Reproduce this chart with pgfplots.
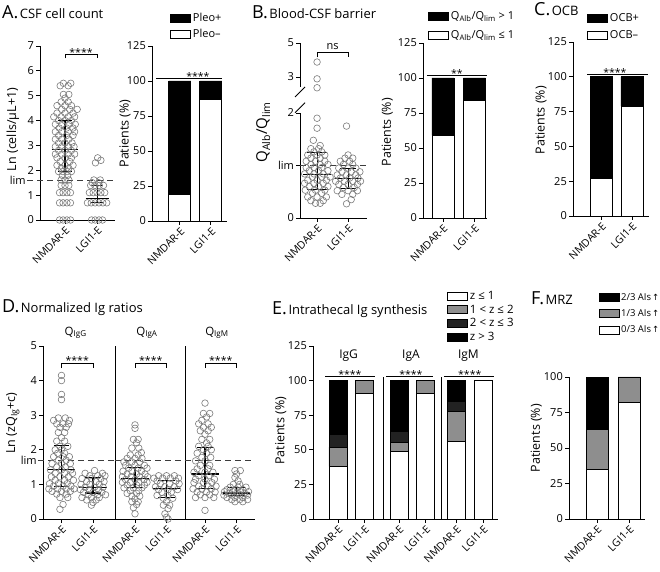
\documentclass[border=0pt]{standalone}
\usepackage{fontspec}
\setmainfont{Open Sans}
\newfontfamily\symfont{DejaVu Sans}
\usepackage{pgfplots}
\pgfplotsset{compat=1.18}

\definecolor{dotgray}{HTML}{7A7A7A}
\definecolor{midgray}{HTML}{8E8E8E}
\definecolor{darkseg}{HTML}{222222}
\definecolor{limgray}{HTML}{3C3C3C}
\newcommand{\fs}[1]{\fontsize{#1bp}{#1bp}\selectfont}
\newcommand{\up}{\hspace{1bp}{\symfont\fs{8.5}↑}}

\tikzset{star/.style={font=\fs{10.5}, anchor=base, inner sep=0pt, yshift=-2bp}}

\pgfplotsset{
  base/.style={scale only axis, clip=false, enlargelimits=false, anchor=south west,
    axis x line*=bottom, axis y line*=left,
    axis line style={line width=0.9bp, -},
    tick align=outside, major tick length=4bp,
    every tick/.style={black, line width=0.9bp},
    tick label style={font=\fs{11}},
    /pgf/number format/assume math mode=true,
    xtick={1,2}, xticklabels={NMDAR-E,LGI1-E},
    x tick label style={rotate=45, anchor=north east, font=\fs{10.5}, inner sep=1bp},
    y tick label style={inner sep=2bp},
    label style={font=\fs{12.5}},
  },
  ylab/.style 2 args={ylabel style={at={(axis description cs:#1,#2)}, anchor=center}},
  dots/.style={only marks, mark=o, mark size=3.3bp, color=dotgray, line width=0.6bp},
  eb/.style={black, line width=1.1bp},
  lim/.style={limgray, line width=0.9bp, dash pattern=on 6bp off 4bp},
  bars/.style={base, ybar stacked, bar width=22bp, ymin=0, ymax=125, ytick={0,25,...,125},
    ylabel={Patients (\%)},
    legend style={draw=none, fill=none, font=\fs{11}, cells={anchor=west}, inner sep=0pt,
      anchor=north west, row sep=2bp},
    reverse legend},
  seg/.style={draw=black, line width=0.8bp,
    legend image code/.code={\draw[##1] (0bp,-4bp) rectangle (20bp,4bp);}},
}

% median line, whisker, caps
\newcommand{\ebar}[8]{%
  \addplot[eb] coordinates {(#1,#6) (#2,#6)};
  \addplot[eb] coordinates {(#5,#7) (#5,#8)};
  \addplot[eb] coordinates {(#3,#7) (#4,#7)};
  \addplot[eb] coordinates {(#3,#8) (#4,#8)};}

\begin{document}
\begin{tikzpicture}[x=1bp,y=1bp]
\path[use as bounding box] (0,0) rectangle (660,572);

\node[anchor=base west, inner sep=0] at (2,553) {\fs{18}A.\hspace{1.5bp}\fs{13}CSF cell count};
\node[anchor=base west, inner sep=0] at (252,553) {\fs{18}B.\hspace{1.5bp}\fs{13}Blood-CSF barrier};
\node[anchor=base west, inner sep=0] at (534,556) {\fs{18}C.\hspace{1.5bp}\fs{13}OCB};
\node[anchor=base west, inner sep=0] at (2,259) {\fs{18}D.\hspace{1.5bp}\fs{13}Normalized Ig ratios};
\node[anchor=base west, inner sep=0] at (272,257) {\fs{18}E.\hspace{1.5bp}\fs{13}Intrathecal Ig synthesis};
\node[anchor=base west, inner sep=0] at (531,267) {\fs{18}F.\hspace{1.5bp}\fs{13}MRZ};

% ---------- A: cell count
\begin{axis}[base, at={(40bp,352bp)}, width=75bp, height=174bp,
  xmin=0.22, xmax=2.56, ymin=0, ymax=7, ytick={0,...,7},
  ylabel={Ln (cells/µL+1)}, ylab={-0.36}{0.52}]
\addplot[lim] coordinates {(-0.18,1.6) (2.56,1.6)};
\addplot[dots] coordinates {
(0.83,0)(0.94,0)(1.06,0)(1.17,0)
(0.83,0.69)(0.94,0.69)(1.06,0.69)(1.17,0.69)
(0.83,1.1)(0.94,1.1)(1.06,1.1)(1.17,1.1)
(0.88,1.39)(1,1.39)(1.12,1.39)
(0.88,1.61)(1,1.61)(1.12,1.61)
(0.92,1.79)(1.08,1.79)
(0.8,1.95)(0.93,1.95)(1.07,1.95)(1.2,1.95)
(0.88,2.08)(1.12,2.08)
(0.75,2.2)(1,2.2)(1.25,2.2)
(0.85,2.35)(1.15,2.35)
(0.75,2.5)(1,2.5)(1.2,2.5)
(0.7,2.65)(0.9,2.65)(1.1,2.65)(1.3,2.65)
(0.8,2.8)(1,2.8)(1.2,2.8)
(0.7,2.95)(0.9,2.95)(1.1,2.95)(1.28,2.95)
(0.8,3.1)(1,3.1)(1.22,3.1)
(0.7,3.25)(0.9,3.25)(1.12,3.25)
(0.8,3.4)(1.05,3.4)(1.25,3.4)
(0.7,3.55)(0.9,3.55)(1.1,3.55)(1.3,3.55)
(0.82,3.7)(1.05,3.7)(1.25,3.7)
(0.7,3.85)(0.9,3.85)(1.12,3.85)(1.32,3.85)
(0.8,4)(1,4)(1.2,4)
(0.65,4.15)(0.88,4.15)(1.1,4.15)(1.3,4.15)
(0.75,4.3)(1,4.3)(1.25,4.3)
(0.9,4.45)(1.15,4.45)(1.38,4.45)
(0.75,4.6)(1,4.6)(1.2,4.6)
(0.88,4.75)(1.1,4.75)
(1,4.9)
(0.95,5.05)(1.12,5.05)
(0.85,5.4)(1.1,5.4)
(0.95,5.5)(1.18,5.5)};
\addplot[dots] coordinates {
(1.83,0)(1.94,0)(2.06,0)(2.17,0)
(1.7,0.69)(1.82,0.69)(1.94,0.69)(2.06,0.69)(2.18,0.69)(2.3,0.69)
(1.76,1.1)(1.88,1.1)(2,1.1)(2.12,1.1)(2.24,1.1)
(1.8,1.39)(1.93,1.39)(2.07,1.39)(2.2,1.39)
(1.85,1.5)(2.05,1.5)
(1.9,1.61)(2.1,1.61)
(1.95,2.3)(2.12,2.4)(2.02,2.5)};
\ebar{0.58}{1.42}{0.77}{1.23}{1}{2.85}{1.95}{4.0}
\ebar{1.64}{2.36}{1.8}{2.2}{2}{0.88}{0.69}{1.4}
\addplot[black, line width=0.9bp] coordinates {(1,6.5) (1,6.67) (2,6.67) (2,6.5)};
\node[star] at (axis cs:1.5,6.67) {****};
\node[font=\fs{11}, anchor=east, inner sep=1bp] at (axis cs:-0.19,1.6) {lim};
\end{axis}

\begin{axis}[bars, at={(152bp,351bp)}, width=75bp, height=175bp,
  xmin=0.1, xmax=2.52, ylab={-0.36}{0.5}, legend style={at={(0.24,1.2)}}]
\addplot[seg, fill=white] coordinates {(1,19) (2,87)}; \addlegendentry{Pleo–}
\addplot[seg, fill=black] coordinates {(1,81) (2,13)}; \addlegendentry{Pleo+}
\draw[line width=0.9bp] (axis cs:0.23,102) -- (axis cs:2.36,102);
\node[star] at (axis cs:1.58,102) {****};
\end{axis}

% ---------- B: blood-CSF barrier
\begin{axis}[base, at={(300bp,354bp)}, width=67bp, height=175bp,
  xmin=0.45, xmax=2.61, ymin=0, ymax=3.333,
  ytick={0,1,2,2.686,3.333}, yticklabels={0,lim,2,3,5},
  y axis line style={draw=none},
  ylabel={Q\textsubscript{Alb}/Q\textsubscript{lim}}, ylabel style={font=\fs{15}}, ylab={-0.55}{0.49}]
\draw[line width=0.9bp] (axis cs:0.45,0) -- (axis cs:0.45,2.0);
\draw[line width=0.9bp] (axis cs:0.45,2.5) -- (axis cs:0.45,3.333);
\draw[line width=0.9bp] (axis cs:0.45,2.1) ++(-5bp,-5bp) -- ++(10bp,10bp);
\draw[line width=0.9bp] (axis cs:0.45,2.4) ++(-5bp,-5bp) -- ++(10bp,10bp);
\addplot[lim] coordinates {(0.45,1) (2.61,1)};
\addplot[dots] coordinates {
(0.95,0.28)(1.1,0.28)(1.2,0.33)(0.8,0.33)
(0.7,0.4)(1,0.4)(1.3,0.4)(0.85,0.47)(1.15,0.47)
(0.62,0.53)(0.95,0.53)(1.25,0.53)
(0.75,0.6)(1.05,0.6)(1.35,0.6)
(0.6,0.66)(0.9,0.66)(1.2,0.66)
(0.7,0.72)(1,0.72)(1.3,0.72)
(0.85,0.78)(1.15,0.78)(1.42,0.78)
(0.6,0.84)(0.9,0.84)(1.2,0.84)
(0.75,0.9)(1.05,0.9)(1.35,0.9)
(0.65,0.96)(0.9,0.96)(1.15,0.96)
(0.8,1.02)(1.1,1.02)(1.35,1.02)
(0.65,1.08)(0.95,1.08)(1.25,1.08)
(0.8,1.14)(1.1,1.14)
(0.7,1.2)(1,1.2)(1.25,1.2)
(0.9,1.26)(1.15,1.26)
(0.8,1.32)(1.05,1.32)
(1.1,1.38)(0.88,1.48)(1,1.71)(1,1.9)
(1,2.48)(1,2.65)(1,2.97)};
\addplot[dots] coordinates {
(1.95,0.27)(2.1,0.35)(1.8,0.45)(2.15,0.45)
(1.65,0.52)(2,0.52)(2.3,0.52)(1.85,0.58)(2.2,0.58)
(1.7,0.64)(2,0.64)(2.3,0.64)
(1.6,0.7)(1.88,0.7)(2.15,0.7)(2.4,0.7)
(1.75,0.76)(2.05,0.76)(2.32,0.76)
(1.65,0.82)(1.95,0.82)(2.25,0.82)
(1.8,0.88)(2.1,0.88)(2.38,0.88)
(1.7,0.95)(2,0.95)(2.25,0.95)
(1.85,1.02)(2.15,1.02)(1.75,1.08)(2.05,1.08)
(1.9,1.14)(2.15,1.14)(2,1.2)(1.95,1.75)};
\ebar{0.56}{1.44}{0.68}{1.32}{1}{0.82}{0.55}{1.24}
\ebar{1.58}{2.42}{1.73}{2.27}{2}{0.76}{0.57}{0.95}
\addplot[black, line width=0.9bp] coordinates {(1,3.06) (1,3.16) (2,3.16) (2,3.06)};
\node[font=\fs{11}, anchor=base, inner sep=0pt] at (axis cs:1.5,3.2) {ns};
\end{axis}

\begin{axis}[bars, at={(423bp,354bp)}, width=64bp, height=175bp,
  xmin=0.365, xmax=2.4, ylab={-0.56}{0.49}, legend style={at={(0.078,1.194)}, row sep=6bp}]
\addplot[seg, fill=white] coordinates {(1,59) (2,84)}; \addlegendentry{Q\textsubscript{Alb}/Q\textsubscript{lim} ≤ 1}
\addplot[seg, fill=black] coordinates {(1,41) (2,16)}; \addlegendentry{Q\textsubscript{Alb}/Q\textsubscript{lim} > 1}
\draw[line width=0.9bp] (axis cs:0.49,101.5) -- (axis cs:2.4,101.5);
\node[star] at (axis cs:1.44,101.5) {**};
\end{axis}

% ---------- C: OCB
\begin{axis}[bars, at={(573bp,356bp)}, width=76bp, height=174bp,
  xmin=0.066, xmax=2.56, ylab={-0.42}{0.55}, legend style={at={(0.184,1.178)}, row sep=4bp}]
\addplot[seg, fill=white] coordinates {(1,27) (2,79)}; \addlegendentry{OCB–}
\addplot[seg, fill=black] coordinates {(1,73) (2,21)}; \addlegendentry{OCB+}
\draw[line width=0.9bp] (axis cs:0.53,102) -- (axis cs:2.53,102);
\node[star] at (axis cs:1.44,102) {****};
\end{axis}

% ---------- D: normalized Ig ratios
\begin{axis}[base, at={(43bp,53bp)}, width=72bp, height=173bp,
  xmin=0.413, xmax=2.699, ymin=0, ymax=5, ytick={0,...,5},
  ylabel={Ln (zQ\textsubscript{Ig}+c)}, ylab={-0.42}{0.555}]
\addplot[lim] coordinates {(0.25,1.7) (2.699,1.7)};
\node[font=\fs{11}, anchor=east, inner sep=1bp] at (axis cs:0.25,1.7) {lim};
\node[font=\fs{11.5}] at (axis cs:1.45,5.38) {Q\textsubscript{IgG}};
\addplot[dots] coordinates {
(1,4.15)(1,4)(1,3.6)(1,3.45)
(0.9,2.92)(1.12,2.92)(0.75,2.85)(1.25,2.85)(0.85,2.75)(1.05,2.75)(1.22,2.75)(0.95,2.65)(1.15,2.65)
(0.9,2.5)(1.1,2.5)(1,2.35)(0.85,2.25)(1.1,2.25)(0.95,2.1)(1.2,2.1)
(0.8,2)(1,2)(1.1,1.9)(0.88,1.9)(0.75,1.8)(1.05,1.8)(1.25,1.8)(0.9,1.7)(1.15,1.7)
(0.7,1.6)(1,1.6)(1.28,1.6)(0.85,1.5)(1.12,1.5)(0.65,1.42)(1,1.42)(1.3,1.42)
(0.8,1.32)(1.1,1.32)(1.35,1.32)(0.68,1.22)(0.95,1.22)(1.22,1.22)
(0.8,1.12)(1.1,1.12)(1.38,1.12)(0.62,1.02)(0.9,1.02)(1.18,1.02)
(0.75,0.95)(1.05,0.95)(1.3,0.95)(0.6,0.87)(0.88,0.87)(1.15,0.87)(1.4,0.87)
(0.7,0.8)(1,0.8)(1.28,0.8)(0.85,0.72)(1.15,0.72)(0.95,0.62)(1.2,0.62)
(1.05,0.42)(0.95,0.28)};
\addplot[dots] coordinates {
(2.05,1.4)(1.75,1.32)(2.3,1.32)(1.9,1.25)(2.15,1.25)(2.38,1.25)
(1.65,1.17)(1.95,1.17)(2.25,1.17)(1.8,1.08)(2.1,1.08)(2.35,1.08)
(1.62,1)(1.9,1)(2.2,1)(1.75,0.92)(2.05,0.92)(2.32,0.92)
(1.6,0.85)(1.88,0.85)(2.18,0.85)(1.7,0.77)(2,0.77)(2.28,0.77)
(1.85,0.7)(2.15,0.7)(2.4,0.7)(1.65,0.62)(1.95,0.62)(2.2,0.62)
(2.1,0.55)(1.8,0.55)(2,0.48)(1.95,0.4)};
\ebar{0.56}{1.44}{0.76}{1.24}{1}{1.43}{0.95}{2.12}
\ebar{1.56}{2.44}{1.74}{2.26}{2}{0.92}{0.75}{1.2}
\addplot[black, line width=0.9bp] coordinates {(1,4.36) (1,4.51) (2,4.51) (2,4.36)};
\node[star] at (axis cs:1.5,4.51) {****};
\end{axis}

\begin{axis}[base, at={(115bp,53bp)}, width=70bp, height=173bp,
  xmin=0.365, xmax=2.587, ymin=0, ymax=5, ytick=\empty]
\addplot[lim] coordinates {(0.365,1.7) (2.587,1.7)};
\node[font=\fs{11.5}] at (axis cs:1.38,5.38) {Q\textsubscript{IgA}};
\addplot[dots] coordinates {
(1,2.72)(1,2.62)(0.95,2.3)(1.1,2.3)(1.05,2.2)(0.9,2.05)(1.12,2.05)(1.2,1.92)
(0.85,1.85)(1.1,1.85)(0.75,1.75)(1,1.75)(1.22,1.75)(0.65,1.65)(0.9,1.65)(1.15,1.65)
(0.7,1.55)(1,1.55)(1.3,1.55)(0.8,1.47)(1.1,1.47)(1.38,1.47)
(0.62,1.38)(0.9,1.38)(1.2,1.38)(0.75,1.3)(1.05,1.3)(1.32,1.3)
(0.6,1.22)(0.88,1.22)(1.15,1.22)(1.4,1.22)(0.7,1.14)(1,1.14)(1.28,1.14)
(0.6,1.06)(0.85,1.06)(1.12,1.06)(1.38,1.06)(0.75,0.98)(1.05,0.98)(1.3,0.98)
(0.65,0.9)(0.95,0.9)(1.22,0.9)(0.85,0.82)(1.12,0.82)(0.75,0.74)(1.05,0.74)
(0.9,0.66)(1.15,0.66)(1,0.58)(0.9,0.5)(1.1,0.5)(1.05,0.42)(0.95,0.33)(1,0.15)};
\addplot[dots] coordinates {
(1.75,1.25)(2,1.25)(2.25,1.25)(1.6,1.18)(1.88,1.18)(2.12,1.18)(2.38,1.18)
(1.7,1.1)(2.3,1.1)(1.8,1.02)(2.1,1.02)(2.4,1.02)
(1.65,0.93)(1.95,0.93)(2.25,0.93)(1.75,0.85)(2.05,0.85)(2.35,0.85)
(1.85,0.77)(2.15,0.77)(1.7,0.68)(2.05,0.68)(1.9,0.6)(2.2,0.6)
(2,0.5)(1.9,0.4)(2.1,0.4)(2.05,0.3)(1.95,0.15)(2,0.05)(2.05,0)};
\ebar{0.56}{1.44}{0.76}{1.24}{1}{1.17}{0.92}{1.48}
\ebar{1.56}{2.44}{1.74}{2.26}{2}{0.87}{0.63}{1.1}
\addplot[black, line width=0.9bp] coordinates {(1,4.36) (1,4.51) (2,4.51) (2,4.36)};
\node[star] at (axis cs:1.5,4.51) {****};
\end{axis}

\begin{axis}[base, at={(185bp,53bp)}, width=70bp, height=173bp,
  xmin=0.365, xmax=2.587, ymin=0, ymax=5, ytick=\empty]
\addplot[lim] coordinates {(0.365,1.7) (2.587,1.7)};
\node[font=\fs{11.5}] at (axis cs:1.38,5.38) {Q\textsubscript{IgM}};
\addplot[dots] coordinates {
(1,3.35)(0.95,3.05)(1.15,3.05)(1.05,2.95)(0.9,2.85)(0.8,2.75)(1.1,2.75)(0.95,2.65)(1.2,2.65)
(0.85,2.55)(1.1,2.55)(1,2.45)(0.9,2.3)(1.15,2.3)(1.05,2.2)(0.8,2.1)(1.1,2.1)(0.95,2)(1.2,2)
(0.75,1.9)(1.05,1.9)(0.9,1.78)(1.18,1.78)(0.7,1.68)(1,1.68)(0.85,1.55)(1.15,1.55)
(0.75,1.45)(1.1,1.45)(0.65,1.35)(1,1.35)(1.25,1.35)(0.8,1.25)(1.12,1.25)
(0.7,1.15)(1,1.15)(1.3,1.15)(0.65,1.05)(0.95,1.05)(1.22,1.05)
(0.8,0.95)(1.1,0.95)(1.35,0.95)(0.62,0.87)(0.9,0.87)(1.2,0.87)
(0.75,0.78)(1.05,0.78)(1.32,0.78)(0.85,0.7)(1.15,0.7)(0.7,0.62)(1,0.62)(1.28,0.62)(1,0.25)};
\addplot[dots] coordinates {
(1.95,1.4)(2.12,1.4)(2,1.3)(1.95,1.2)(2.05,1.1)(1.9,1)(2.1,1)
(1.8,0.92)(2.05,0.92)(2.3,0.92)(1.7,0.85)(1.95,0.85)(2.2,0.85)
(1.62,0.79)(1.88,0.79)(2.12,0.79)(2.38,0.79)(1.75,0.74)(2,0.74)(2.25,0.74)
(1.6,0.69)(1.85,0.69)(2.1,0.69)(2.35,0.69)(1.7,0.62)(1.95,0.62)(2.2,0.62)
(1.85,0.56)(2.1,0.56)(2.35,0.56)(1.95,0.5)(2.2,0.5)};
\ebar{0.56}{1.44}{0.76}{1.24}{1}{1.3}{0.87}{2.07}
\ebar{1.56}{2.44}{1.74}{2.26}{2}{0.75}{0.68}{0.92}
\addplot[black, line width=0.9bp] coordinates {(1,4.36) (1,4.51) (2,4.51) (2,4.36)};
\node[star] at (axis cs:1.5,4.51) {****};
\end{axis}

% ---------- E: intrathecal Ig synthesis
\begin{axis}[bars, at={(313bp,53bp)}, width=70bp, height=173bp, bar width=18bp,
  xmin=0.057, xmax=2.70, ylab={-0.46}{0.51}]
\addplot[seg, fill=white] coordinates {(1,38) (2,91)};
\addplot[seg, fill=midgray] coordinates {(1,14) (2,9)};
\addplot[seg, fill=darkseg] coordinates {(1,9) (2,0)};
\addplot[seg, fill=black] coordinates {(1,39) (2,0)};
\draw[line width=0.9bp] (axis cs:0.51,102.8) -- (axis cs:2.4,102.8);
\node[star] at (axis cs:1.45,102.8) {****};
\node[font=\fs{12}, anchor=base, inner sep=0pt] at (axis cs:1.4,116) {IgG};
\end{axis}

\begin{axis}[bars, at={(383bp,53bp)}, width=58bp, height=173bp, bar width=18bp,
  xmin=0.396, xmax=2.585, axis y line=none, ytick=\empty, ylabel={}]
\addplot[seg, fill=white] coordinates {(1,49) (2,91)};
\addplot[seg, fill=midgray] coordinates {(1,6) (2,9)};
\addplot[seg, fill=darkseg] coordinates {(1,8) (2,0)};
\addplot[seg, fill=black] coordinates {(1,37) (2,0)};
\draw[line width=0.9bp] (axis cs:0.396,0) -- (axis cs:0.396,102.6);
\draw[line width=0.9bp] (axis cs:0.51,102.8) -- (axis cs:2.28,102.8);
\node[star] at (axis cs:1.45,102.8) {****};
\node[font=\fs{12}, anchor=base, inner sep=0pt] at (axis cs:1.45,116) {IgA};
\end{axis}

\begin{axis}[bars, at={(441bp,53bp)}, width=57bp, height=173bp, bar width=18bp,
  xmin=0.415, xmax=2.566, axis y line=none, ytick=\empty, ylabel={},
  reverse legend=false,
  legend style={at={(0.105,1.33)}, row sep=0bp, font=\fs{11.5}}]
\addplot[seg, fill=white] coordinates {(1,56) (2,100)}; \addlegendentry{z ≤ 1}
\addplot[seg, fill=midgray] coordinates {(1,22) (2,0)}; \addlegendentry{1 < z ≤ 2}
\addplot[seg, fill=darkseg] coordinates {(1,7) (2,0)}; \addlegendentry{2 < z ≤ 3}
\addplot[seg, fill=black] coordinates {(1,15) (2,0)}; \addlegendentry{z > 3}
\draw[line width=0.9bp] (axis cs:0.415,0) -- (axis cs:0.415,102.6);
\draw[line width=0.9bp] (axis cs:0.53,102.8) -- (axis cs:2.42,102.8);
\node[star] at (axis cs:1.5,102.8) {****};
\node[font=\fs{12}, anchor=base, inner sep=0pt] at (axis cs:1.45,116) {IgM};
\end{axis}

% ---------- F: MRZ
\begin{axis}[bars, at={(569bp,53bp)}, width=76bp, height=142bp,
  xmin=0.125, xmax=2.5, ymax=100, ytick={0,25,...,100}, ylab={-0.43}{0.57},
  legend style={at={(0.39,1.606)}, row sep=4bp, font=\fs{9.5}, nodes={inner xsep=1.5bp}}]
\addplot[seg, fill=white] coordinates {(1,35) (2,82)}; \addlegendentry{0/3 AIs\up}
\addplot[seg, fill=midgray] coordinates {(1,28) (2,18)}; \addlegendentry{1/3 AIs\up}
\addplot[seg, fill=black] coordinates {(1,37) (2,0)}; \addlegendentry{2/3 AIs\up}
\end{axis}
\end{tikzpicture}
\end{document}
